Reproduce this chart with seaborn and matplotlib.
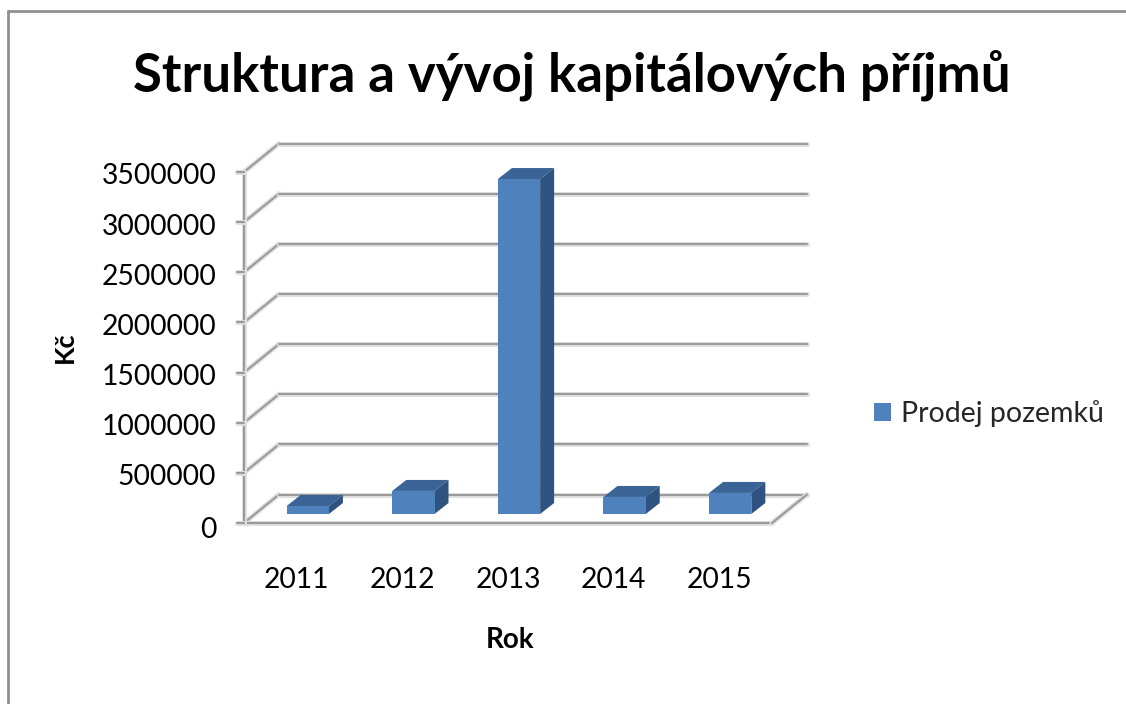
import matplotlib
matplotlib.use("Agg")
import matplotlib.pyplot as plt
from matplotlib.lines import Line2D
from matplotlib.patches import Polygon
from matplotlib.transforms import IdentityTransform, Affine2D
import numpy as np
import pandas as pd
import seaborn as sns

years = ["2011", "2012", "2013", "2014", "2015"]
values = [80000, 230000, 3340000, 170000, 210000]
y_ticks = [0, 500000, 1000000, 1500000, 2000000, 2500000, 3000000, 3500000]
series_name = "Prodej pozemků"
title = "Struktura a vývoj kapitálových příjmů"

W, H = 1126, 704
sns.set_theme(style="white")
plt.rcParams["font.family"] = ["Lato", "DejaVu Sans"]

fig = plt.figure(figsize=(W / 100, H / 100), dpi=100)
L, R, T, B = 244, 772, 172, 523
ax = fig.add_axes([L / W, 1 - B / H, (R - L) / W, (B - T) / H])
ax.patch.set_alpha(0)

df = pd.DataFrame({"Rok": years, "Kc": values})
sns.barplot(data=df, x="Rok", y="Kc", color="#4F81BD", saturation=1, width=0.4,
            label=series_name, ax=ax, zorder=5, linewidth=0)
ax.set_xlim(-0.5, 4.5)
ax.set_ylim(0, 3500000)

GRID = "#9a9a9a"
GLOW = "#e0e0e0"
DX, DY = 35, 28.5
BAR_DX, BAR_DY = 11, 9
SIDE_DX, SIDE_DY = 14, 11


def px(x, y, dx=0.0, dy=0.0):
    p = ax.transData.transform((x, y))
    return p[0] + dx, p[1] + dy


def seg(a, b, z=1):
    for col, lw in ((GLOW, 3.6), (GRID, 1.5)):
        ax.add_line(Line2D([a[0], b[0]], [a[1], b[1]], color=col, lw=lw, zorder=z,
                           transform=IdentityTransform(), clip_on=False,
                           solid_capstyle="round"))


for v in y_ticks:
    seg(px(-0.5, v), px(-0.5, v, DX, DY))
    seg(px(-0.5, v, DX, DY), px(4.5, v, DX, DY))
seg(px(-0.5, 0), px(4.5, 0), z=2)
seg(px(4.5, 0), px(4.5, 0, DX, DY), z=2)
seg(px(-0.5, 0), px(-0.5, 3500000), z=2)
for v in y_ticks:
    seg(px(-0.5, v, -7, 0), px(-0.5, v), z=2)

shift = Affine2D().translate(BAR_DX, BAR_DY)
for bar in list(ax.patches):
    x0, w, h = bar.get_x(), bar.get_width(), bar.get_height()
    bar.set_transform(ax.transData + shift)
    bar.set_clip_on(False)
    a = px(x0, h, BAR_DX, BAR_DY)
    b = px(x0 + w, h, BAR_DX, BAR_DY)
    c = px(x0 + w, 0, BAR_DX, BAR_DY)
    top = [a, b, (b[0] + SIDE_DX, b[1] + SIDE_DY), (a[0] + SIDE_DX, a[1] + SIDE_DY)]
    side = [b, c, (c[0] + SIDE_DX, c[1] + SIDE_DY), (b[0] + SIDE_DX, b[1] + SIDE_DY)]
    ax.add_patch(Polygon(top, closed=True, fc="#3A6496", ec="none", zorder=4,
                         transform=IdentityTransform(), clip_on=False))
    ax.add_patch(Polygon(side, closed=True, fc="#2F5380", ec="none", zorder=4,
                         transform=IdentityTransform(), clip_on=False))

sns.despine(ax=ax, left=True, bottom=True, top=True, right=True)
ax.set_yticks(y_ticks)
ax.set_yticklabels([str(v) for v in y_ticks], fontsize=20.3)
ax.tick_params(axis="y", length=0, pad=20, labelcolor="black")
ax.tick_params(axis="x", length=0, pad=32, labelsize=20.3, labelcolor="black")
ax.set_xlabel("")
ax.set_ylabel("")
for lab, v in zip(ax.get_yticklabels(), y_ticks):
    lab.set_transform(lab.get_transform() + Affine2D().translate(0, -2 if v else -5))

fig.text(65 / W, 1 - 347 / H, "Kč", rotation=90, ha="center", va="center",
         fontsize=19.5, fontweight="bold", color="black")
fig.text(510 / W, 1 - 640 / H, "Rok", ha="center", va="center",
         fontsize=20, fontweight="bold", color="black")
fig.text(572 / W, 1 - 75 / H, title, ha="center", va="center",
         fontsize=38, fontweight="bold", color="black")

handles, labels = ax.get_legend_handles_labels()
ax.legend(handles, labels, loc="center left", bbox_to_anchor=(868 / W, 1 - 414 / H),
          bbox_transform=fig.transFigure, frameon=False, fontsize=20.5,
          handlelength=0.6, handleheight=0.6, handletextpad=0.37,
          borderpad=0, borderaxespad=0.2)

border = "#8f8f8f"
fig.add_artist(Line2D([8 / W, 8 / W], [0, 1 - 11 / H], color=border, lw=2))
fig.add_artist(Line2D([8 / W, 1], [1 - 11 / H, 1 - 11 / H], color=border, lw=2))

fig.savefig("out.png", dpi=100)
